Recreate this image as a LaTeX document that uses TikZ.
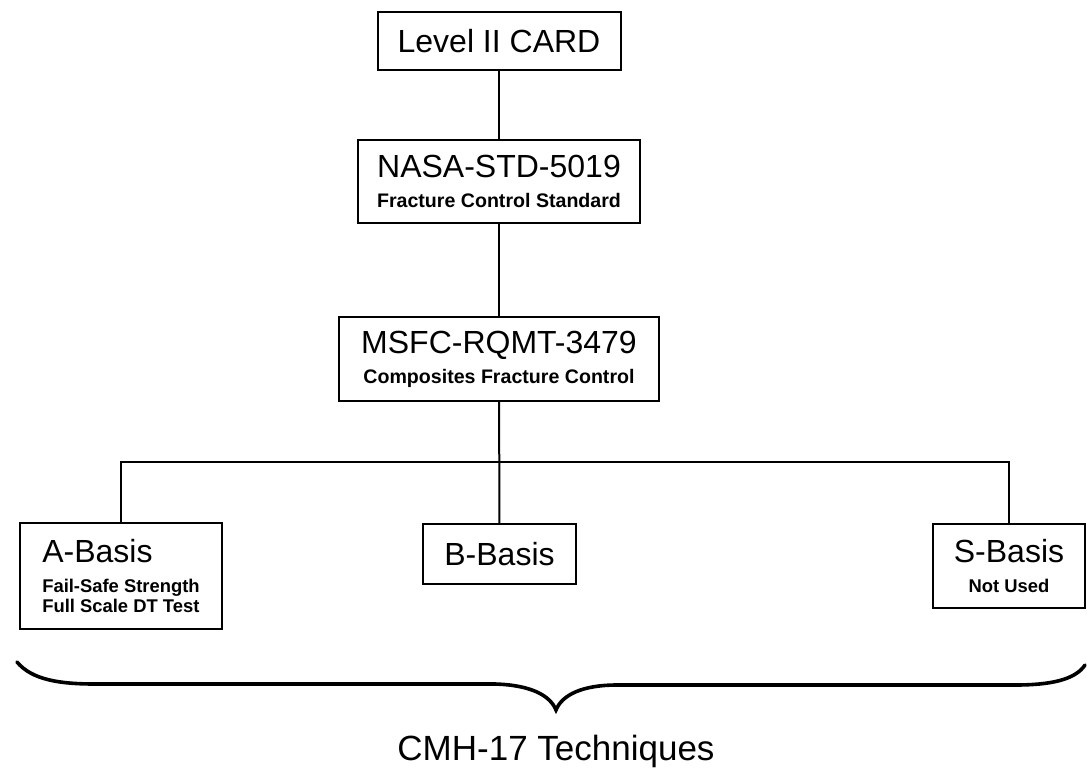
\documentclass[tikz,border=0pt]{standalone}
\usepackage{fontspec}
\setmainfont{Liberation Sans}
\usetikzlibrary{positioning}
\newcommand{\subtxt}{\fontsize{9.8}{12}\bfseries\selectfont}
\newcommand{\subtxtsm}{\fontsize{9.2}{11}\bfseries\selectfont}
\tikzset{
  box/.style={
    draw=black,
    line width=1pt,
    align=center,
    inner sep=2pt,
    font=\fontsize{16}{19}\selectfont
  },
  link/.style={line width=1pt},
  bracket/.style={line width=1.8pt, line cap=round}
}

\begin{document}
\begin{tikzpicture}[x=0.5pt, y=-0.5pt]
        \useasboundingbox (0,0) rectangle (1087,772);
        \node[box, minimum width=121.5pt, minimum height=29pt] (card) at (499,41) {Level II CARD};
        \node[box, below=34pt of card, minimum width=141pt, minimum height=41.5pt] (nasa) {NASA-STD-5019\\[-4pt]\subtxt Fracture Control Standard};
        \node[box, below=46pt of nasa, minimum width=160pt, minimum height=42pt] (msfc) {MSFC-RQMT-3479\\[-4pt]\subtxt Composites Fracture Control};
        \node[box, anchor=north, align=left, minimum width=101pt, minimum height=53pt] (abasis) at (121,522) {A-Basis\\[-4pt]\subtxtsm Fail-Safe Strength\\[-9pt]\subtxtsm Full Scale DT Test};
        \node[box, anchor=north, minimum width=76.5pt, minimum height=30pt] (bbasis) at (499.5,523) {B-Basis};
        \node[box, anchor=north, minimum width=76pt, minimum height=42pt] (sbasis) at (1009,523) {S-Basis\\[-4pt]\subtxtsm Not Used};
        \coordinate (bus) at (499,462);
        \draw[link] (card) -- (nasa);
        \draw[link] (nasa) -- (msfc);
        \draw[link] (msfc) -- (bbasis);
        \draw[link] (abasis.north) |- (bus) -| (sbasis.north);
        % brace under the three basis boxes
        \coordinate (bl) at (17,662);
        \coordinate (tip) at (556,710);
        \coordinate (br) at (1085,665);
        \draw[bracket] (bl) .. controls (32,680) and (60,684) .. (95,684) -- (495,684)
          .. controls (530,685) and (550,695) .. (tip)
          .. controls (562,695) and (582,685) .. (617,685) -- (1015,685)
          .. controls (1050,685) and (1075,680) .. (br);
        \node[anchor=base, font=\fontsize{17.5}{20}\selectfont] (cmh) at (556,760) {CMH-17 Techniques};
      \end{tikzpicture}
\end{document}
